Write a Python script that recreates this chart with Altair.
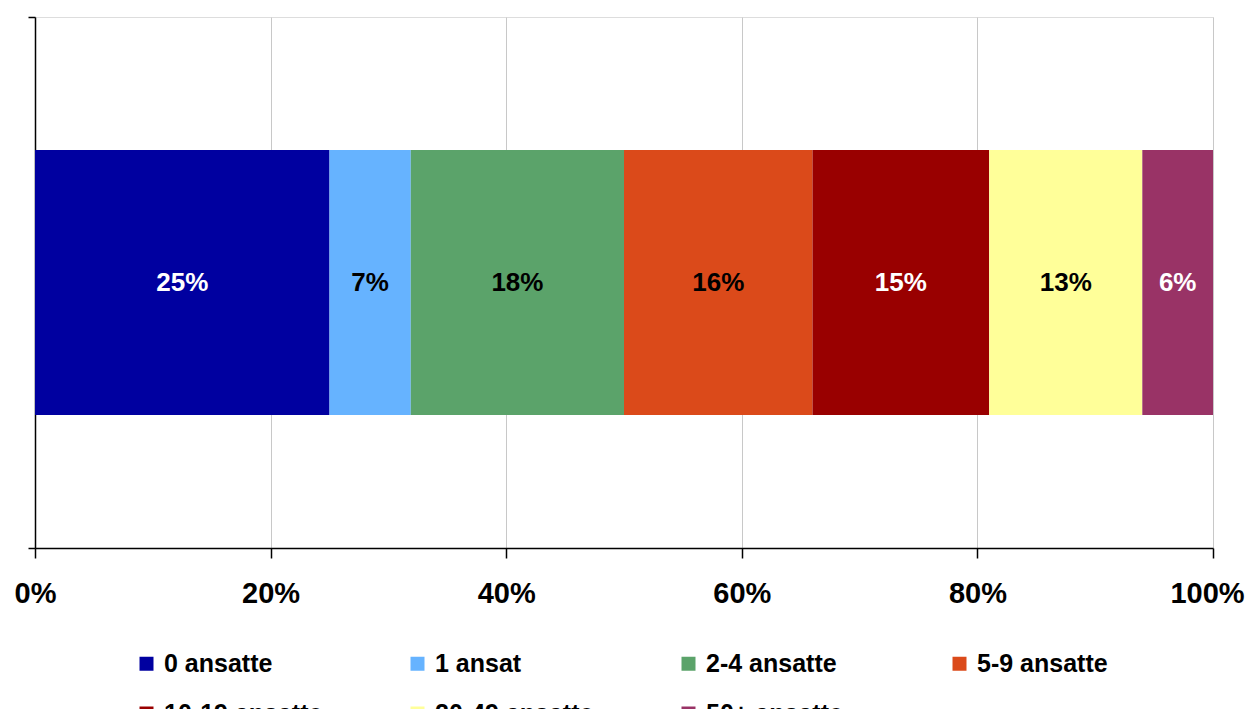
import altair as alt
import pandas as pd

categories = ["0 ansatte", "1 ansat", "2-4 ansatte", "5-9 ansatte",
              "10-19 ansatte", "20-49 ansatte", "50+ ansatte"]
values = [25.0, 6.9, 18.1, 16.0, 15.0, 13.0, 6.0]
labels = ["25%", "7%", "18%", "16%", "15%", "13%", "6%"]
colors = ["#0000A0", "#66B3FF", "#5BA36A", "#DB4A1A", "#990000", "#FFFF99", "#993366"]
label_colors = ["white", "black", "black", "black", "white", "black", "white"]
x_ticks = [0, 20, 40, 60, 80, 100]

df = pd.DataFrame({
    "kategori": categories,
    "andel": values,
    "label": labels,
    "tekstfarve": label_colors,
    "orden": list(range(len(categories))),
    "række": [1] * len(categories),
})

FONT = "Liberation Sans"

base = alt.Chart(df).transform_window(
    cum="sum(andel)", sort=[alt.SortField("orden")], frame=[None, 0]
).transform_calculate(
    start="datum.cum - datum.andel", mid="datum.cum - datum.andel / 2"
)

y_enc = alt.Y("række:Q", scale=alt.Scale(domain=[0, 2], padding=0, nice=False, zero=False),
              axis=alt.Axis(values=[0, 2], labels=False, grid=False, tickSize=7,
                            tickColor="black", domainColor="black", domainWidth=1.5,
                            tickWidth=1.5, title=None))

bars = base.mark_bar(size=265, orient="horizontal").encode(
    x=alt.X("start:Q", scale=alt.Scale(domain=[0, 100], padding=0, nice=False),
            axis=alt.Axis(values=x_ticks, labelExpr="datum.value + '%'", title=None,
                          grid=True, gridColor="#c8c8c8", gridWidth=1,
                          domainColor="black", domainWidth=1.5, tickColor="black",
                          tickSize=10, tickWidth=1.5, labelPadding=21, labelFlush=False,
                          labelOffset={"condition": {"test": "datum.value === 100", "value": -6},
                                       "value": 0},
                          labelFont=FONT, labelFontSize=29, labelFontWeight="bold",
                          labelColor="black")),
    x2="cum:Q",
    y=y_enc,
    color=alt.Color("kategori:N", sort=categories,
                    scale=alt.Scale(domain=categories, range=colors),
                    legend=alt.Legend(title=None, orient="none", legendX=99, legendY=634,
                                      columns=4, direction="horizontal", gridAlign="all",
                                      symbolType="square", symbolSize=196,
                                      symbolStrokeWidth=0, symbolOpacity=1,
                                      labelFont=FONT, labelFontSize=25,
                                      labelFontWeight="bold", labelColor="black",
                                      labelOffset=5, columnPadding=82, rowPadding=24,
                                      labelLimit=400)),
    order=alt.Order("orden:Q"),
)

text = base.mark_text(font=FONT, fontSize=26, fontWeight="bold").encode(
    x="mid:Q",
    y=alt.Y("række:Q"),
    text="label:N",
    color=alt.Color("tekstfarve:N", scale=None),
)

chart = alt.layer(bars, text).properties(
    width=1178, height=531,
    autosize=alt.AutoSizeParams(type="none"),
    padding={"left": 27, "top": 9, "right": 33, "bottom": 161},
).configure_view(stroke=None).configure(background="white")

chart.save("out.html", embed_options={"renderer": "svg", "actions": False})
